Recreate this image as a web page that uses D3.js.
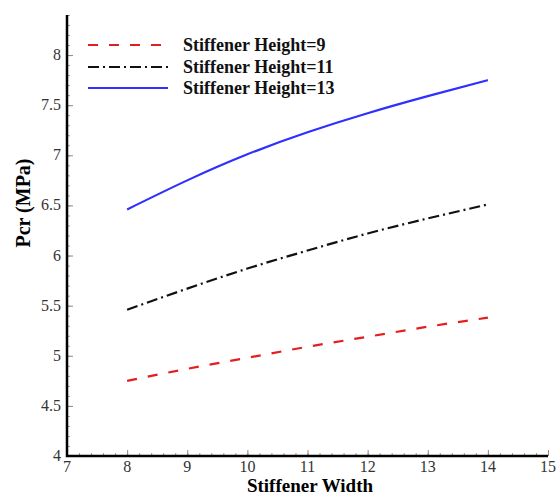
<!DOCTYPE html>
<html>
<head>
<meta charset="utf-8">
<script src="https://cdn.jsdelivr.net/npm/d3@7"></script>
<style>
  body { margin: 0; background: #fff; }
  svg { display: block; }
  svg text { font-family: 'Liberation Serif', 'Times New Roman', Times, serif; }
</style>
</head>
<body>
<div class="container"></div>
<script>
const w = 560;
const h = 495;
const pad = {top: 15, right: 12, bottom: 39, left: 67};

// data
const widths = [8, 9, 10, 11, 12, 13, 14];
const height9 = [4.75, 4.87, 4.98, 5.09, 5.19, 5.29, 5.38];
const height11 = [5.46, 5.67, 5.87, 6.05, 6.22, 6.37, 6.51];
const height13 = [6.46, 6.75, 7.01, 7.23, 7.42, 7.59, 7.75];
const seriesNames = ['Stiffener Height=9', 'Stiffener Height=11', 'Stiffener Height=13'];
const xTicks = [7, 8, 9, 10, 11, 12, 13, 14, 15];
const yTicks = [4, 4.5, 5, 5.5, 6, 6.5, 7, 7.5, 8];

const series = [
  {name: seriesNames[0], values: height9, color: '#e41e1e', dash: '10,11'},
  {name: seriesNames[1], values: height11, color: '#111', dash: '11,4,2,4'},
  {name: seriesNames[2], values: height13, color: '#2f2fff', dash: null}
];

const svg = d3.select('.container')
              .append('svg')
              .attr('width', w)
              .attr('height', h);

const xScale = d3.scaleLinear()
                 .domain([7, 15])
                 .range([pad.left, w - pad.right]);
const yScale = d3.scaleLinear()
                 .domain([4, 8.4])
                 .range([h - pad.bottom, pad.top]);

// minor ticks (inward)
const xMinor = d3.range(7, 15.001, 0.2);
const yMinor = d3.range(4, 8.401, 0.1);

svg.append('g')
   .attr('transform', `translate(0, ${h - pad.bottom})`)
   .call(d3.axisTop(xScale).tickValues(xMinor).tickSize(3).tickFormat(''))
   .call(g => g.select('.domain').remove())
   .selectAll('line').attr('stroke', '#999');

svg.append('g')
   .attr('transform', `translate(${pad.left}, 0)`)
   .call(d3.axisRight(yScale).tickValues(yMinor).tickSize(3).tickFormat(''))
   .call(g => g.select('.domain').remove())
   .selectAll('line').attr('stroke', '#999');

// major ticks
const xAxis = svg.append('g')
   .attr('transform', `translate(0, ${h - pad.bottom})`)
   .call(d3.axisTop(xScale).tickValues(xTicks).tickSize(6).tickFormat(''));
xAxis.select('.domain').remove();
xAxis.selectAll('line').attr('stroke', '#888');

const yAxis = svg.append('g')
   .attr('transform', `translate(${pad.left}, 0)`)
   .call(d3.axisRight(yScale).tickValues(yTicks).tickSize(6).tickFormat(''));
yAxis.select('.domain').remove();
yAxis.selectAll('line').attr('stroke', '#888');

// tick labels
svg.append('g')
   .selectAll('text')
   .data(xTicks)
   .enter()
   .append('text')
   .attr('x', d => xScale(d))
   .attr('y', h - pad.bottom + 16)
   .attr('text-anchor', 'middle')
   .style('font-size', '16px')
   .style('fill', '#333')
   .text(d => d);

svg.append('g')
   .selectAll('text')
   .data(yTicks)
   .enter()
   .append('text')
   .attr('x', pad.left - 6)
   .attr('y', d => yScale(d) + 5)
   .attr('text-anchor', 'end')
   .style('font-size', '16px')
   .style('fill', '#333')
   .text(d => d);

// axis lines
svg.append('path')
   .attr('d', `M${pad.left},${pad.top} V${h - pad.bottom} H${w - pad.right}`)
   .attr('fill', 'none')
   .attr('stroke', '#000')
   .attr('stroke-width', 2.5);

// curves
const line = d3.line()
               .x((d, i) => xScale(widths[i]))
               .y(d => yScale(d))
               .curve(d3.curveNatural);

svg.selectAll('.curve')
   .data(series)
   .enter()
   .append('path')
   .attr('class', 'curve')
   .attr('d', d => line(d.values))
   .attr('fill', 'none')
   .attr('stroke', d => d.color)
   .attr('stroke-width', 2.2)
   .attr('stroke-dasharray', d => d.dash);

// axis titles
svg.append('text')
   .attr('x', 310)
   .attr('y', 492)
   .attr('text-anchor', 'middle')
   .style('font-weight', 'bold')
   .style('font-size', '19px')
   .text('Stiffener Width');

svg.append('text')
   .attr('transform', `translate(30, 203) rotate(-90)`)
   .attr('text-anchor', 'middle')
   .style('font-weight', 'bold')
   .style('font-size', '20px')
   .text('Pcr (MPa)');

// legend
const legend = svg.append('g');
const rowY = [45, 67, 88];
series.forEach((s, i) => {
  legend.append('line')
        .attr('x1', 88)
        .attr('x2', 168)
        .attr('y1', rowY[i])
        .attr('y2', rowY[i])
        .attr('stroke', s.color)
        .attr('stroke-width', 2.2)
        .attr('stroke-dasharray', s.dash);
  legend.append('text')
        .attr('x', 183)
        .attr('y', rowY[i] + 6)
        .style('font-weight', 'bold')
        .style('font-size', '18px')
        .style('fill', '#111')
        .text(s.name);
});
</script>
</body>
</html>
